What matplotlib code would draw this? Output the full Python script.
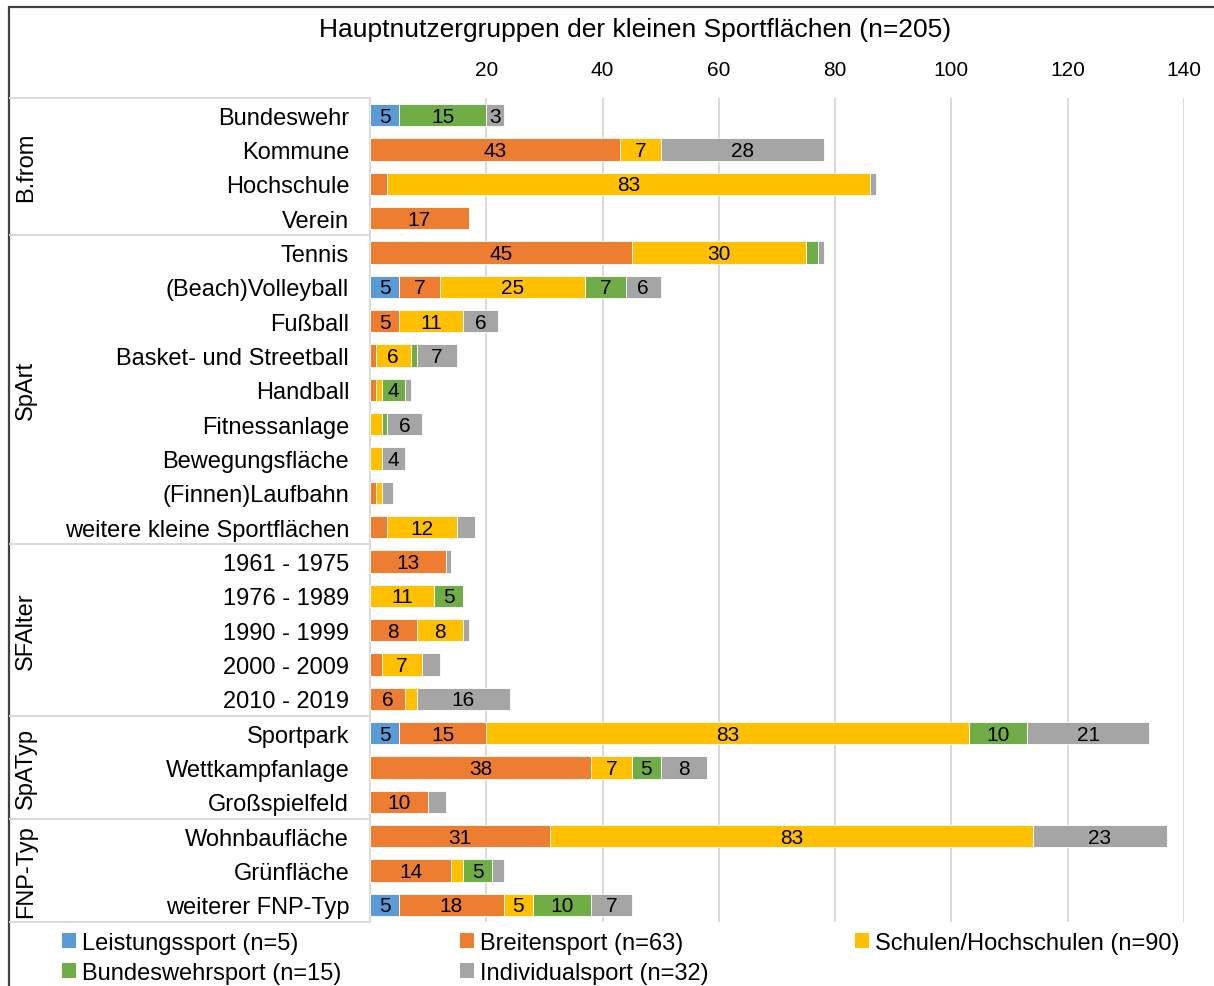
import matplotlib
matplotlib.use("Agg")
import matplotlib.pyplot as plt
import matplotlib.transforms as mtransforms
from matplotlib.patches import Patch, Rectangle
from matplotlib.lines import Line2D
import numpy as np

plt.rcParams['font.family'] = ['Liberation Sans', 'DejaVu Sans']

# ---------------- data ----------------
title = "Hauptnutzergruppen der kleinen Sportflächen (n=205)"
categories = ["Bundeswehr", "Kommune", "Hochschule", "Verein",
              "Tennis", "(Beach)Volleyball", "Fußball", "Basket- und Streetball",
              "Handball", "Fitnessanlage", "Bewegungsfläche", "(Finnen)Laufbahn",
              "weitere kleine Sportflächen",
              "1961 - 1975", "1976 - 1989", "1990 - 1999", "2000 - 2009", "2010 - 2019",
              "Sportpark", "Wettkampfanlage", "Großspielfeld",
              "Wohnbaufläche", "Grünfläche", "weiterer FNP-Typ"]
groups = ["B.from", "SpArt", "SFAlter", "SpATyp", "FNP-Typ"]
group_sizes = [4, 9, 5, 3, 3]

series_names = ["Leistungssport (n=5)", "Breitensport (n=63)", "Schulen/Hochschulen (n=90)",
                "Bundeswehrsport (n=15)", "Individualsport (n=32)"]
leistungssport = [5, 0, 0, 0, 0, 5, 0, 0, 0, 0, 0, 0, 0, 0, 0, 0, 0, 0, 5, 0, 0, 0, 0, 5]
breitensport   = [0, 43, 3, 17, 45, 7, 5, 1, 1, 0, 0, 1, 3, 13, 0, 8, 2, 6, 15, 38, 10, 31, 14, 18]
schulen        = [0, 7, 83, 0, 30, 25, 11, 6, 1, 2, 2, 1, 12, 0, 11, 8, 7, 2, 83, 7, 0, 83, 2, 5]
bundeswehr     = [15, 0, 0, 0, 2, 7, 0, 1, 4, 1, 0, 0, 0, 0, 5, 0, 0, 0, 10, 5, 0, 0, 5, 10]
individual     = [3, 28, 1, 0, 1, 6, 6, 7, 1, 6, 4, 2, 3, 1, 0, 1, 3, 16, 21, 8, 3, 23, 2, 7]
x_ticks = [20, 40, 60, 80, 100, 120, 140]

label_min = 4
extra_labels = [("Bundeswehr", 4)]  # (category, series index) labelled despite being small

colors = ["#5B9BD5", "#ED7D31", "#FFC000", "#70AD47", "#A5A5A5"]

# ---------------- figure ----------------
W, H = 1214, 987
fig = plt.figure(figsize=(W / 100, H / 100), dpi=100)
ax = fig.add_axes([370 / W, 1 - 923 / H, (1184 - 370) / W, (923 - 99) / H])

all_series = [leistungssport, breitensport, schulen, bundeswehr, individual]
y = np.arange(len(categories))
left = np.zeros(len(categories))
for si, (vals, col) in enumerate(zip(all_series, colors)):
    vals = np.array(vals, dtype=float)
    ax.barh(y, vals, left=left, height=0.66, color=col, edgecolor="white",
            linewidth=0.6, zorder=3, label=series_names[si])
    for i, v in enumerate(vals):
        if v <= 0:
            continue
        if v >= label_min or (categories[i], si) in extra_labels:
            ax.text(left[i] + v / 2, y[i] + 0.03, f"{int(v)}", ha="center", va="center",
                    fontsize=15, color="black", zorder=4)
    left += vals

ax.set_xlim(0, 140)
ax.set_ylim(len(categories) - 0.5, -0.5)
ax.xaxis.tick_top()
ax.set_xticks(x_ticks)
ax.set_xticklabels([str(t) for t in x_ticks])
ax.tick_params(axis="x", length=0, labelsize=15, pad=14, colors="black")
ax.set_yticks(y)
ax.set_yticklabels(categories)
ax.tick_params(axis="y", length=0, labelsize=17, pad=15)
ax.grid(axis="x", color="#D9D9D9", linewidth=1.4, zorder=0)
for s in ["top", "right", "bottom"]:
    ax.spines[s].set_visible(False)
ax.spines["left"].set_color("#D9D9D9")
ax.spines["left"].set_linewidth(1.4)

# group separators and labels
trans = mtransforms.blended_transform_factory(fig.transFigure, ax.transData)
x_left = 10 / W
x_right = 369 / W
bounds = np.concatenate([[0], np.cumsum(group_sizes)]) - 0.5
for b in bounds:
    fig.add_artist(Line2D([x_left, x_right], [b, b], transform=trans,
                          color="#D9D9D9", linewidth=1.4))
for gi, g in enumerate(groups):
    c = (bounds[gi] + bounds[gi + 1]) / 2
    fig.text(26 / W, c, g, transform=trans, rotation=90, ha="center", va="center",
             fontsize=17)

# title
fig.text(635 / W, 1 - 30 / H, title, ha="center", va="center", fontsize=19)

# chart-area border (cropped at right / bottom)
fig.add_artist(Rectangle((9 / W, -0.2), 1.2, 1.2 - 8 / H, transform=fig.transFigure,
                         fill=False, edgecolor="#404040", linewidth=1.6))

# legend (three columns)
handles = [Patch(facecolor=c, edgecolor="none") for c in colors]
cols = [([0, 3], 62), ([1, 4], 460), ([2], 855)]
for idx, xpx in cols:
    fig.legend([handles[i] for i in idx], [series_names[i] for i in idx],
               loc="upper left", bbox_to_anchor=(xpx / W, 1 - 933 / H),
               frameon=False, fontsize=17, handlelength=0.6, handleheight=0.6,
               handletextpad=0.25, labelspacing=0.32, borderpad=0, borderaxespad=0)

fig.savefig("out.png", dpi=100)
